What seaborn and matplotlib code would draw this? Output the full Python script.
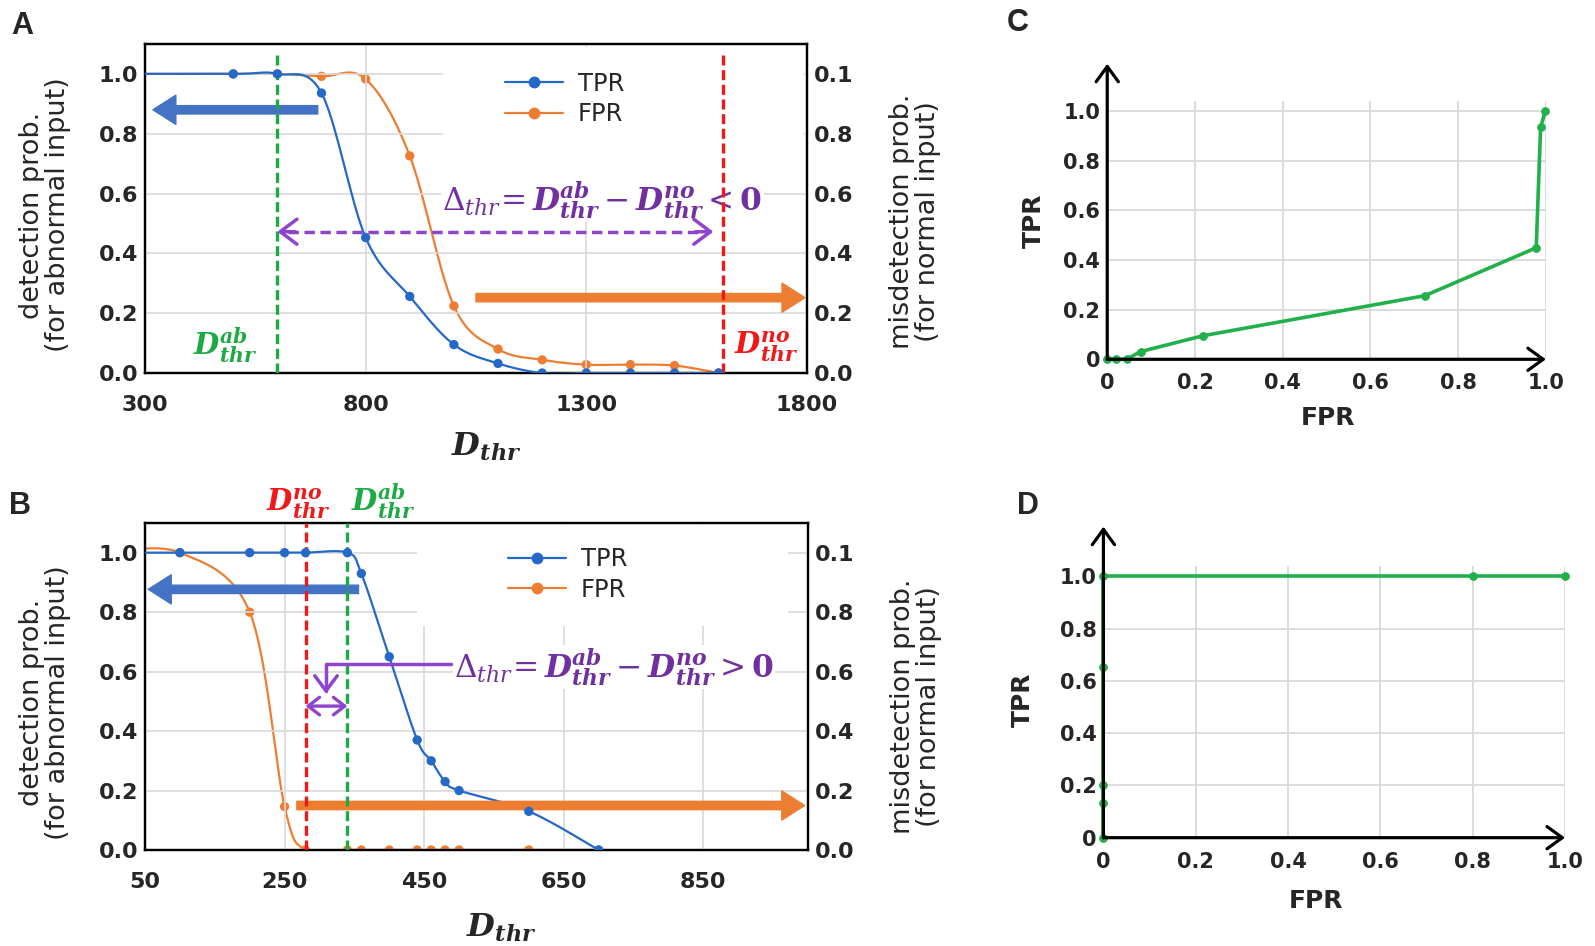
import numpy as np
import pandas as pd
import matplotlib
matplotlib.use("Agg")
import matplotlib.pyplot as plt
import seaborn as sns
from matplotlib.lines import Line2D
from matplotlib.patches import Rectangle

# ---------------------------------------------------------------- data
# panel A (thresholds beyond the left edge are off-chart continuation)
a_thr = [200, 500, 600, 700, 800, 900, 1000, 1100, 1200, 1300, 1400, 1500, 1600]
a_tpr = [1.0, 1.0, 1.0, 0.936, 0.453, 0.256, 0.095, 0.032, 0.0, 0.0, 0.0, 0.0, 0.0]
a_fpr = [0.1, 0.1, 0.1, 0.0992, 0.0983, 0.0726, 0.0224, 0.008, 0.0044, 0.0028, 0.0028, 0.0025, 0.0]
a_d_ab, a_d_no = 600, 1610

# panel B
b_thr = [0, 100, 200, 250, 280, 340, 360, 400, 440, 460, 480, 500, 600, 700]
b_tpr = [1.0, 1.0, 1.0, 1.0, 1.0, 1.0, 0.93, 0.65, 0.37, 0.30, 0.23, 0.20, 0.13, 0.0]
b_fpr = [0.1, 0.1, 0.08, 0.0146, 0.0, 0.0, 0.0, 0.0, 0.0, 0.0, 0.0, 0.0, 0.0, 0.0]
b_d_no, b_d_ab = 280, 340

# ROC panels
c_fpr = [0, 0.02, 0.044, 0.076, 0.219, 0.724, 0.978, 0.988, 0.999]
c_tpr = [0, 0, 0, 0.031, 0.095, 0.256, 0.449, 0.934, 1.0]
d_fpr = [0, 0, 0, 0, 0, 0.8, 1.0]
d_tpr = [0, 0.134, 0.20, 0.654, 1.0, 1.0, 1.0]

left_ticks = [0.0, 0.2, 0.4, 0.6, 0.8, 1.0]
left_labels = ["0.0", "0.2", "0.4", "0.6", "0.8", "1.0"]
right_ticks = [0.0, 0.02, 0.04, 0.06, 0.08, 0.1]
right_labels = ["0.0", "0.2", "0.4", "0.6", "0.8", "0.1"]
a_xticks = [300, 800, 1300, 1800]
b_xticks = [50, 250, 450, 650, 850]
roc_ticks = [0, 0.2, 0.4, 0.6, 0.8, 1.0]
roc_labels = ["0", "0.2", "0.4", "0.6", "0.8", "1.0"]

BLUE = "#2468C8"
ORANGE = "#ED7D31"
ARROW_BLUE = "#4472C4"
GREEN = "#1DAA45"
RED = "#F01818"
PURPLE = "#7030A0"
LPURPLE = "#8E44CC"
ROC_GREEN = "#21B04B"
GRID = "#D9D9D9"

sns.set_style("white")
plt.rcParams["font.family"] = ["DejaVu Sans"]
plt.rcParams["mathtext.fontset"] = "dejavuserif"
plt.rcParams["axes.axisbelow"] = True


def smooth(xs, ys, n=30):
    # Catmull-Rom curve through the points (like a spreadsheet "smoothed line")
    p = np.column_stack([xs, ys]).astype(float)
    p = np.vstack([p[0], p, p[-1]])
    t = np.linspace(0, 1, n, endpoint=False)[:, None]
    h00 = 2 * t**3 - 3 * t**2 + 1
    h10 = t**3 - 2 * t**2 + t
    h01 = -2 * t**3 + 3 * t**2
    h11 = t**3 - t**2
    segs = []
    for i in range(1, len(p) - 2):
        m1 = (p[i + 1] - p[i - 1]) / 2
        m2 = (p[i + 2] - p[i]) / 2
        segs.append(h00 * p[i] + h10 * m1 + h01 * p[i + 1] + h11 * m2)
    segs.append(p[-2][None, :])
    s = np.vstack(segs)
    return pd.DataFrame({"x": s[:, 0], "y": s[:, 1]})


def big_arrow(ax, x0, x1, y, color):
    ax.annotate("", xy=(x1, y), xytext=(x0, y), xycoords="axes fraction",
                arrowprops=dict(arrowstyle="simple,head_width=1.4,head_length=1.1,tail_width=0.4",
                                mutation_scale=15, color=color, shrinkA=0, shrinkB=0),
                zorder=4)


def thr_panel(ax, thr, tpr, fpr, xlim, xticks):
    ax2 = ax.twinx()
    ax.set_zorder(ax2.get_zorder() + 1)
    ax.patch.set_visible(False)

    sf = smooth(thr, fpr)
    sns.lineplot(data=sf, x="x", y="y", ax=ax2, color=ORANGE, lw=1.6,
                 sort=False, estimator=None)
    sns.scatterplot(x=thr, y=fpr, ax=ax2, color=ORANGE, s=45, edgecolor="none", zorder=5)

    st = smooth(thr, tpr)
    sns.lineplot(data=st, x="x", y="y", ax=ax, color=BLUE, lw=1.6,
                 sort=False, estimator=None, zorder=3)
    sns.scatterplot(x=thr, y=tpr, ax=ax, color=BLUE, s=45, edgecolor="none", zorder=6)

    ax.set_xlim(*xlim)
    ax.set_ylim(0, 1.1)
    ax2.set_ylim(0, 0.11)
    ax.set_xticks(xticks, [str(v) for v in xticks])
    ax.set_yticks(left_ticks, left_labels)
    ax2.set_yticks(right_ticks, right_labels)
    ax.grid(True, color=GRID, lw=1.2)
    for a in (ax, ax2):
        a.tick_params(length=0, labelsize=16, pad=5)
        for lab in a.get_xticklabels() + a.get_yticklabels():
            lab.set_fontweight("bold")
        for sp in a.spines.values():
            sp.set_color("black")
            sp.set_linewidth(1.6)
        a.set_xlabel("")
        a.set_ylabel("")
    ax.tick_params(axis="x", pad=16)

    ax.set_xlabel(r"$\mathbfit{D}_{\mathbfit{thr}}$", fontsize=23)
    ax.set_ylabel("detection prob.\n(for abnormal input)", fontsize=19.5, linespacing=1.0)
    ax2.set_ylabel("misdetection prob.\n(for normal input)", fontsize=19.5, linespacing=1.0,
                   rotation=90)

    handles = [Line2D([], [], color=BLUE, lw=1.6, marker="o", ms=7.5),
               Line2D([], [], color=ORANGE, lw=1.6, marker="o", ms=7.5)]
    return ax2, handles


def roc_panel(ax, fpr, tpr):
    sns.lineplot(x=fpr, y=tpr, ax=ax, color=ROC_GREEN, lw=2.6, sort=False,
                 estimator=None, marker="o", ms=5.5, mec=ROC_GREEN, clip_on=False, zorder=4)
    ax.set_xlim(0, 1.0)
    ax.set_ylim(0, 1.04)
    ax.set_xticks(roc_ticks, roc_labels)
    ax.set_yticks(roc_ticks, roc_labels)
    ax.grid(True, color=GRID, lw=1.3)
    for sp in ax.spines.values():
        sp.set_visible(False)
    ax.tick_params(length=0, labelsize=15)
    for lab in ax.get_xticklabels() + ax.get_yticklabels():
        lab.set_fontweight("bold")
    ax.tick_params(axis="x", pad=10)
    ax.tick_params(axis="y", pad=5)
    ax.set_xlabel("FPR", fontsize=18, fontweight="bold")
    ax.set_ylabel("TPR", fontsize=18, fontweight="bold")
    head = dict(arrowstyle="->,head_length=0.55,head_width=0.4", mutation_scale=20,
                color="black", lw=2.3, shrinkA=0, shrinkB=0)
    ax.annotate("", xy=(0, 1.144), xytext=(0, 0), xycoords="axes fraction",
                arrowprops=head, zorder=5, annotation_clip=False)
    ax.annotate("", xy=(1.0, 0), xytext=(0, 0), xycoords="axes fraction",
                arrowprops=head, zorder=5, annotation_clip=False)


fig = plt.figure(figsize=(15.95, 9.46), dpi=100)
ax_a = fig.add_axes([0.0909, 0.6057, 0.4150, 0.3478])
ax_b = fig.add_axes([0.0909, 0.1015, 0.4157, 0.3457])
ax_c = fig.add_axes([0.6942, 0.6202, 0.2750, 0.2731])
ax_d = fig.add_axes([0.6918, 0.1145, 0.2894, 0.2874])

formula_a = (r"$\Delta_{\mathit{thr}}\!=\mathbfit{D}^{\mathbfit{ab}}_{\mathbfit{thr}}"
             r"-\mathbfit{D}^{\mathbfit{no}}_{\mathbfit{thr}}<\mathbf{0}$")
formula_b = (r"$\Delta_{\mathit{thr}}\!=\mathbfit{D}^{\mathbfit{ab}}_{\mathbfit{thr}}"
             r"-\mathbfit{D}^{\mathbfit{no}}_{\mathbfit{thr}}>\mathbf{0}$")
d_ab = r"$\mathbfit{D}^{\mathbfit{ab}}_{\mathbfit{thr}}$"
d_no = r"$\mathbfit{D}^{\mathbfit{no}}_{\mathbfit{thr}}$"
legend_kw = dict(loc="upper left", frameon=False, fontsize=17.5, handlelength=2.4,
                 handletextpad=0.6, labelspacing=0.25, borderpad=0, borderaxespad=0)
purple_head = dict(arrowstyle="->,head_length=0.6,head_width=0.45", mutation_scale=20,
                   color=LPURPLE, lw=2.5, shrinkA=0, shrinkB=0)

# ---------------------------------------------------------------- panel A
a2, handles = thr_panel(ax_a, a_thr, a_tpr, a_fpr, (300, 1800), a_xticks)
ax_a.xaxis.set_label_coords(0.515, -0.175)
ax_a.yaxis.set_label_coords(-0.112, 0.48)
a2.yaxis.set_label_coords(1.124, 0.46)
ax_a.add_patch(Rectangle((0.45, 0.56), 0.545, 0.43, transform=ax_a.transAxes,
                         facecolor="white", edgecolor="none", zorder=1))
ax_a.legend(handles, ["TPR", "FPR"], bbox_to_anchor=(0.544, 0.915), **legend_kw)
ax_a.axvline(a_d_ab, ymax=0.975, color=GREEN, lw=2.4, ls=(0, (3, 1.4)), zorder=5)
ax_a.axvline(a_d_no, ymax=0.975, color=RED, lw=2.4, ls=(0, (3, 1.4)), zorder=5)
big_arrow(ax_a, 0.261, 0.012, 0.80, ARROW_BLUE)
big_arrow(ax_a, 0.50, 0.997, 0.229, ORANGE)
ax_a.hlines(0.4295, a_d_ab + 25, 1565, transform=ax_a.get_xaxis_transform(),
            color=LPURPLE, lw=2.5, ls=(0, (3, 1.6)), zorder=5)
for x_end, x_from in ((a_d_ab, a_d_ab + 40), (1588, 1548)):
    ax_a.annotate("", xy=(x_end, 0.4295), xytext=(x_from, 0.4295),
                  xycoords=("data", "axes fraction"), arrowprops=purple_head, zorder=5)
ax_a.text(0.449, 0.525, formula_a, transform=ax_a.transAxes, fontsize=22.5, color=PURPLE,
          ha="left", va="center", zorder=4,
          bbox=dict(facecolor="white", edgecolor="none", pad=1))
ax_a.text(0.121, 0.085, d_ab, transform=ax_a.transAxes, fontsize=21, color=GREEN,
          ha="center", va="center")
ax_a.text(0.938, 0.079, d_no, transform=ax_a.transAxes, fontsize=21, color=RED,
          ha="center", va="center")

# ---------------------------------------------------------------- panel B
b2, handles = thr_panel(ax_b, b_thr, b_tpr, b_fpr, (50, 1000), b_xticks)
ax_b.xaxis.set_label_coords(0.538, -0.19)
ax_b.yaxis.set_label_coords(-0.112, 0.45)
b2.yaxis.set_label_coords(1.124, 0.44)
ax_b.add_patch(Rectangle((0.41, 0.685), 0.56, 0.31, transform=ax_b.transAxes,
                         facecolor="white", edgecolor="none", zorder=1))
ax_b.legend(handles, ["TPR", "FPR"], bbox_to_anchor=(0.547, 0.925), **legend_kw)
ax_b.axvline(b_d_no, color=RED, lw=2.4, ls=(0, (3, 1.4)), zorder=5)
ax_b.axvline(b_d_ab, color=GREEN, lw=2.4, ls=(0, (3, 1.4)), zorder=5)
big_arrow(ax_b, 0.322, 0.005, 0.797, ARROW_BLUE)
big_arrow(ax_b, 0.229, 0.995, 0.136, ORANGE)
ax_b.annotate("", xy=(0.273, 0.478), xytext=(0.462, 0.569), xycoords="axes fraction",
              arrowprops=dict(purple_head, mutation_scale=18,
                              connectionstyle="angle,angleA=0,angleB=90,rad=0"), zorder=5)
ax_b.annotate("", xy=(b_d_ab, 0.44), xytext=(b_d_no, 0.44),
              xycoords=("data", "axes fraction"),
              arrowprops=dict(arrowstyle="<->,head_length=0.45,head_width=0.35",
                              mutation_scale=18, color=LPURPLE, lw=2.4,
                              shrinkA=0, shrinkB=0), zorder=6)
ax_b.text(0.466, 0.56, formula_b, transform=ax_b.transAxes, fontsize=22.5, color=PURPLE,
          ha="left", va="center", zorder=4,
          bbox=dict(facecolor="white", edgecolor="none", pad=1))
ax_b.text(0.231, 1.058, d_no, transform=ax_b.transAxes, fontsize=21, color=RED,
          ha="center", va="center", clip_on=False)
ax_b.text(0.36, 1.068, d_ab, transform=ax_b.transAxes, fontsize=21, color=GREEN,
          ha="center", va="center", clip_on=False)

# ---------------------------------------------------------------- ROC panels
roc_panel(ax_c, c_fpr, c_tpr)
ax_c.xaxis.set_label_coords(0.503, -0.18)
ax_c.yaxis.set_label_coords(-0.139, 0.535)
roc_panel(ax_d, d_fpr, d_tpr)
ax_d.xaxis.set_label_coords(0.46, -0.188)
ax_d.yaxis.set_label_coords(-0.149, 0.506)

for letter, (x, y) in {"A": (0.0141, 0.9725), "B": (0.0128, 0.465),
                       "C": (0.638, 0.976), "D": (0.6447, 0.465)}.items():
    fig.text(x, y, letter, fontsize=22, fontweight="bold", ha="center", va="center",
             family=["Liberation Sans", "DejaVu Sans"])

fig.savefig("out.png", dpi=100)
